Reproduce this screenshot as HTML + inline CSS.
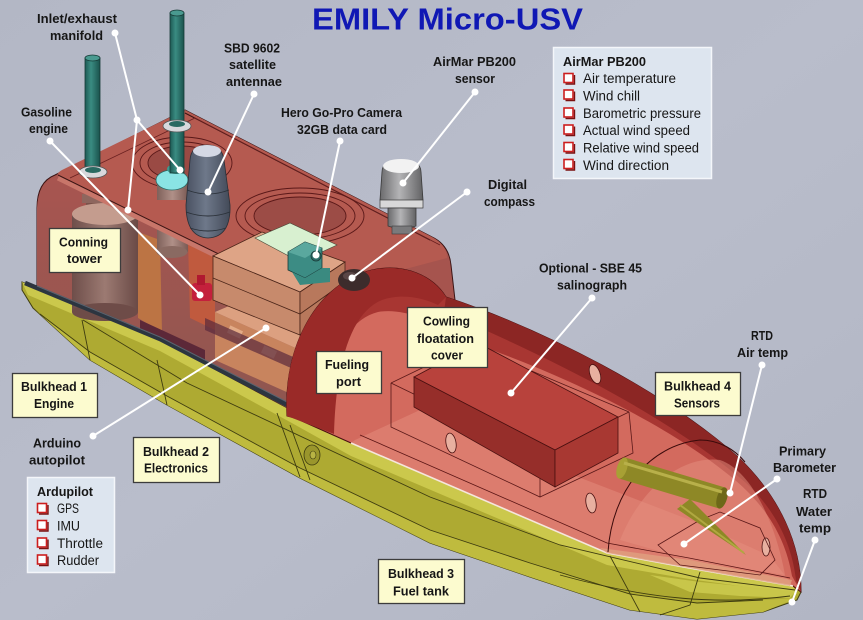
<!DOCTYPE html>
<html><head><meta charset="utf-8">
<style>
html,body{margin:0;padding:0;background:#b5b9c7;overflow:hidden}
svg{display:block}
.l{font-family:"Liberation Sans",sans-serif;font-weight:bold;font-size:13px;fill:#161616}
.r{font-family:"Liberation Sans",sans-serif;font-size:13.5px;fill:#161616}
.t{font-family:"Liberation Sans",sans-serif;font-weight:bold;font-size:31px;fill:#1018b4}
</style></head><body>
<svg width="863" height="620" viewBox="0 0 863 620" xmlns="http://www.w3.org/2000/svg">
<defs>
<linearGradient id="bg" x1="0" y1="0" x2="1" y2="1">
<stop offset="0" stop-color="#b3b7c5"/><stop offset=".5" stop-color="#b9bdcb"/><stop offset="1" stop-color="#b2b6c4"/>
</linearGradient>
<linearGradient id="pipe" x1="0" y1="0" x2="1" y2="0">
<stop offset="0" stop-color="#1d5a54"/><stop offset=".4" stop-color="#3a8c82"/><stop offset="1" stop-color="#1a524c"/>
</linearGradient>
<linearGradient id="ant" x1="0" y1="0" x2="1" y2="0">
<stop offset="0" stop-color="#4a5262"/><stop offset=".45" stop-color="#6e788a"/><stop offset="1" stop-color="#434a58"/>
</linearGradient>
<linearGradient id="air" x1="0" y1="0" x2="1" y2="0">
<stop offset="0" stop-color="#6a6a6c"/><stop offset=".45" stop-color="#b4b4b6"/><stop offset="1" stop-color="#626264"/>
</linearGradient>
<linearGradient id="cyl" x1="0" y1="0" x2="1" y2="0">
<stop offset="0" stop-color="#6e4e4a"/><stop offset=".5" stop-color="#9c7a72"/><stop offset="1" stop-color="#6a4a46"/>
</linearGradient>
<linearGradient id="cyl2" x1="0" y1="0" x2="1" y2="0">
<stop offset="0" stop-color="#7e605a"/><stop offset=".5" stop-color="#b09088"/><stop offset="1" stop-color="#7a5a54"/>
</linearGradient>
<linearGradient id="front" x1="0" y1="0" x2="0" y2="1">
<stop offset="0" stop-color="#a85550"/><stop offset="1" stop-color="#8e5650"/>
</linearGradient>
</defs>
<rect width="863" height="620" fill="url(#bg)"/>

<!-- HULL -->
<path d="M22,282 L160,339 L293,409 L351,443 L607,553 L689,568 L793,586 L801,592 L797,600 L763,612 L697,619 L630,610 L530,577 L430,543 L300,478 L167,405 L90,360 L33,308 L22,290 Z" fill="#aeaa32" stroke="#3e3c10" stroke-width="1"/>
<path d="M22,282 L160,339 L293,409 L351,443 L607,553 L689,568 L793,586 L797,594 L689,579 L607,565 L351,456 L290,422 L160,351 L28,295 Z" fill="#cbc84c"/>
<path d="M40,314 L90,352 L167,396 L300,468 L430,530 L530,563 L630,594 L697,603 L763,600 L797,598 L763,612 L697,619 L630,610 L530,577 L430,543 L300,478 L167,405 L90,360 L33,308 Z" fill="#bfbb3e"/>
<path d="M650,575 L700,582 L760,588 L795,592 L790,598 L740,596 L690,592 Z" fill="#c8c64a"/>
<path d="M293,409 L351,443 L360,436 L300,402 Z" fill="#dcdc98"/>
<g stroke="#3e3c10" stroke-width=".9" fill="none">
<path d="M83,320 L187,383 L430,497 L560,545 L700,578 L795,590"/>
<path d="M82,320 L90,360 M157,360 L167,405 M277,413 L300,477 M290,425 L310,480"/>
<path d="M40,314 L90,352 L167,396 L300,468 L430,530 L530,563 L630,594 L697,603 L763,600"/>
<path d="M610,556 L640,612 M700,572 L690,605 L660,615"/>
<path d="M560,575 C650,600 720,605 790,596"/>
</g>
<ellipse cx="312" cy="455" rx="8" ry="10" fill="#9a962c" stroke="#3e3c10" stroke-width=".8"/>
<ellipse cx="313" cy="455" rx="3" ry="4" fill="#b8b444" stroke="#3e3c10" stroke-width=".6"/>

<!-- CABIN (conning tower) -->
<path d="M185,110 L432,237 Q449,245 451,265 L455,300 L300,408 L293,411 L160,340 L37,286 L37,208 Q37,182 55,175 Z" fill="#a6544e" stroke="#3a1414" stroke-width="1"/>
<path d="M55,178 L300,297 L300,408 L293,411 L160,340 L37,286 L37,208 Q38,184 55,178 Z" fill="url(#front)"/>
<!-- interior items -->
<rect x="86" y="172" width="14" height="44" fill="#7a524a"/>
<rect x="82" y="194" width="22" height="9" fill="#8e665e"/>
<rect x="72" y="214" width="66" height="98" fill="url(#cyl)"/>
<ellipse cx="105" cy="214" rx="33" ry="11" fill="#c49c8e"/>
<ellipse cx="105" cy="312" rx="33" ry="9" fill="#6e4c48"/>
<path d="M138,232 L160,240 L162,332 L138,318 Z" fill="#bc7444"/>
<path d="M188,240 L215,252 L215,330 L190,318 Z" fill="#c05a3e"/>
<rect x="157" y="180" width="31" height="72" fill="url(#cyl2)"/>
<ellipse cx="172" cy="252" rx="15.5" ry="6" fill="#8a6a62"/>
<ellipse cx="172" cy="180" rx="16" ry="10" fill="#8ae4e4" stroke="#2a6a66" stroke-width=".8"/>
<ellipse cx="176" cy="169" rx="9" ry="5" fill="#3a9a90"/>
<path d="M140,320 L205,350 L205,360 L140,330 Z" fill="#5c2838"/>
<path d="M215,312 L300,350 L300,398 L215,360 Z" fill="#c8845e"/>
<path d="M215,312 L236,303 L318,340 L300,350 Z" fill="#dca080"/>
<rect x="228" y="328" width="14" height="8" fill="#e2aa86" transform="rotate(25 235 332)"/>
<rect x="262" y="348" width="14" height="8" fill="#e2aa86" transform="rotate(25 269 352)"/>
<path d="M205,318 L300,360 L300,372 L205,330 Z" fill="#5a2a3c" opacity=".7"/>
<rect x="192" y="283" width="20" height="18" rx="3" fill="#c4203c"/>
<rect x="197" y="275" width="8" height="10" fill="#b01830"/>
<!-- trim band at cabin base -->
<path d="M25,283 L160,339 L295,409" stroke="#2c3540" stroke-width="4.5" fill="none"/>
<path d="M37,286 L160,337 L293,405" stroke="#5a6470" stroke-width="1" fill="none"/>
<!-- top face -->
<path d="M185,110 L432,237 Q447,245 447,258 L300,297 L62,179 Q53,175 62,170 Z" fill="#b55a50"/>
<path d="M58,178 L300,297" stroke="#c8766a" stroke-width="5" fill="none"/>
<path d="M58,175 L300,294 M185,113 L430,240" stroke="#3a1414" stroke-width="1" fill="none"/>
<path d="M70,178 L195,118 L440,245" stroke="#6a2020" stroke-width=".8" fill="none"/>
<!-- recess rings -->
<ellipse cx="182" cy="163" rx="50" ry="26" fill="none" stroke="#5a1818" stroke-width=".9"/>
<ellipse cx="182" cy="163" rx="42" ry="21" fill="none" stroke="#5a1818" stroke-width=".9"/>
<ellipse cx="182" cy="163" rx="34" ry="17" fill="#9a4a44" stroke="#5a1818" stroke-width=".9"/>
<ellipse cx="300" cy="216" rx="64" ry="28" fill="none" stroke="#5a1818" stroke-width=".9"/>
<ellipse cx="300" cy="216" rx="55" ry="23" fill="none" stroke="#5a1818" stroke-width=".9"/>
<ellipse cx="300" cy="216" rx="46" ry="19" fill="#9c4c46" stroke="#5a1818" stroke-width=".9"/>
<!-- manifold redraw above recess -->
<rect x="157" y="180" width="31" height="20" fill="url(#cyl2)"/>
<ellipse cx="172" cy="180" rx="16" ry="10" fill="#8ae4e4" stroke="#2a6a66" stroke-width=".8"/>
<ellipse cx="176" cy="169" rx="9" ry="5" fill="#3a9a90"/>
<!-- electronics box stack -->
<path d="M213,256 L262,232 L345,262 L300,292 Z" fill="#dea486" stroke="#4a2418" stroke-width=".8"/>
<path d="M213,256 L300,292 L300,335 L213,300 Z" fill="#c78a6c" stroke="#4a2418" stroke-width=".8"/>
<path d="M300,292 L345,262 L345,300 L300,335 Z" fill="#b8785c" stroke="#4a2418" stroke-width=".8"/>
<path d="M255,238 L290,223 L337,245 L300,262 Z" fill="#d8f0d0" stroke="#4a4a3a" stroke-width=".6"/>
<path d="M213,278 L300,314 L345,282" stroke="#4a2418" stroke-width=".8" fill="none"/>
<!-- GoPro -->
<path d="M288,252 L305,242 L322,248 L322,268 L305,278 L288,270 Z" fill="#3c8c84" stroke="#1a3a38" stroke-width=".8"/>
<path d="M288,252 L305,242 L322,248 L305,258 Z" fill="#5aa89e"/>
<circle cx="316" cy="256" r="5" fill="#2c6e68" stroke="#1a3a38" stroke-width=".8"/>
<path d="M292,272 L300,285 L330,282 L330,268 L322,268 L305,278 Z" fill="#3a8a80"/>
<!-- pipes -->
<rect x="85" y="58" width="15" height="114" fill="url(#pipe)" stroke="#163a36" stroke-width=".8"/>
<ellipse cx="92.5" cy="58" rx="7.5" ry="3" fill="#4a9a90" stroke="#163a36" stroke-width=".8"/>
<ellipse cx="93" cy="172" rx="14" ry="6" fill="#d8d8dc" stroke="#555" stroke-width=".8"/>
<ellipse cx="93" cy="170" rx="8" ry="3" fill="#2a6a62"/>
<rect x="170" y="13" width="14" height="160" fill="url(#pipe)" stroke="#163a36" stroke-width=".8"/>
<ellipse cx="177" cy="13" rx="7" ry="3" fill="#4a9a90" stroke="#163a36" stroke-width=".8"/>
<ellipse cx="177" cy="126" rx="14" ry="6" fill="#d8d8dc" stroke="#555" stroke-width=".8"/>
<ellipse cx="177" cy="124" rx="8" ry="3" fill="#2a6a62"/>
<!-- antenna -->
<path d="M190,160 Q191,145 207,145 Q222,145 224,160 L230,205 Q231,237 208,238 Q186,237 186,205 Z" fill="url(#ant)" stroke="#2a3038" stroke-width=".8"/>
<ellipse cx="207" cy="151" rx="14" ry="6" fill="#d4d8e4"/>
<path d="M187,190 Q208,198 229,190 M186,212 Q208,220 230,212 M190,228 Q208,234 226,228" stroke="#2a3038" stroke-width=".9" fill="none"/>
<!-- AirMar sensor -->
<path d="M382,172 Q382,160 401,160 Q421,160 421,172 L423,200 Q402,206 380,200 Z" fill="url(#air)" stroke="#3a3a3a" stroke-width=".8"/>
<ellipse cx="401" cy="166" rx="18" ry="7" fill="#f2f2f2"/>
<rect x="380" y="200" width="43" height="8" fill="#d8d8d8" stroke="#3a3a3a" stroke-width=".7"/>
<path d="M388,208 L416,208 L416,226 Q402,231 388,226 Z" fill="url(#air)" stroke="#3a3a3a" stroke-width=".8"/>
<rect x="392" y="226" width="20" height="8" fill="#7a7a7c" stroke="#3a3a3a" stroke-width=".6"/>

<!-- COWLING -->
<path d="M287,416 C283,345 318,283 372,270 C405,263 433,276 446,297 C545,330 665,392 738,457 C780,497 801,545 801,592 L793,586 L689,568 L607,553 L351,443 L295,418 Z" fill="#d36a5e" stroke="#4a1010" stroke-width="1"/>
<path d="M287,416 C283,345 318,283 372,270 C405,263 433,276 446,297 C545,330 665,392 738,457 C780,497 801,545 801,592 L792,576 C786,540 768,508 735,480 C670,425 560,372 452,336 C430,318 400,308 378,312 C345,320 325,365 322,428 Z" fill="#a83632"/>
<path d="M287,416 C283,345 318,283 372,270 C405,263 433,276 446,297 L438,305 C420,296 398,294 382,300 C352,312 336,360 334,434 Z" fill="#9a2a28"/>
<path d="M446,297 C545,330 665,392 738,457 C780,497 801,545 801,592 L796,580 C792,545 776,510 745,482 C670,418 560,362 444,312 Z" fill="#8c2624"/>
<path d="M355,440 L420,410 L560,470 L690,520 L770,556 L793,586 L689,568 L607,553 L351,443 Z" fill="#e48a7c" opacity=".55"/>
<path d="M620,540 C640,490 680,455 720,460 C750,470 775,520 785,575 L690,560 Z" fill="#e69080" opacity=".5"/>
<path d="M351,443 L607,553 L689,568 L793,586" stroke="#f6e6dc" stroke-width="1.6" fill="none"/>
<path d="M360,435 L607,543 L689,558 L790,578" stroke="#5a1414" stroke-width=".8" fill="none"/>
<path d="M600,548 L690,560 L792,580 L790,586 L689,568 L607,553 Z" fill="#e0a080" opacity=".8"/>
<!-- salinograph box -->
<g stroke="#5a1818" stroke-width=".8" fill="none">
<path d="M391,383 L540,455 L629,412 M391,383 L391,427 L540,497 L633,453 L629,412 M540,455 L540,497 M391,383 L470,345 L629,412"/>
</g>
<path d="M414,377 L478,343 L618,417 L555,450 Z" fill="#b8423c" stroke="#4a1010" stroke-width=".8"/>
<path d="M414,377 L555,450 L555,487 L414,407 Z" fill="#962e2a" stroke="#4a1010" stroke-width=".8"/>
<path d="M555,450 L618,417 L618,453 L555,487 Z" fill="#a83832" stroke="#4a1010" stroke-width=".8"/>
<!-- hatches -->
<ellipse cx="595" cy="374" rx="5" ry="10" fill="#e8b0a0" stroke="#4a1010" stroke-width=".8" transform="rotate(-20 595 374)"/>
<ellipse cx="451" cy="443" rx="5" ry="10" fill="#e8b0a0" stroke="#4a1010" stroke-width=".8" transform="rotate(-10 451 443)"/>
<ellipse cx="591" cy="503" rx="5" ry="10" fill="#e8b0a0" stroke="#4a1010" stroke-width=".8" transform="rotate(-10 591 503)"/>
<ellipse cx="766" cy="547" rx="4" ry="9" fill="#e8b0a0" stroke="#4a1010" stroke-width=".8"/>
<!-- bulkhead 4 arc -->
<path d="M608,552 C612,490 650,445 700,440 C720,440 735,450 745,462" stroke="#3a0a0a" stroke-width="1" fill="none"/>
<path d="M658,545 L700,520 L720,512 L760,528 L775,560 L760,575 L680,565 Z" fill="none" stroke="#5a1818" stroke-width=".8"/>
<!-- bow sensors -->
<path d="M625,457.5 L725,487.5 L719,508.5 L619,478.5 Z" fill="#8e8826"/>
<ellipse cx="622" cy="468" rx="5" ry="11" fill="#a8a034" transform="rotate(17 622 468)"/>
<ellipse cx="722" cy="498" rx="5" ry="11" fill="#6e6818" transform="rotate(17 722 498)"/>
<path d="M624,463 L722,492" stroke="#b8b04a" stroke-width="3"/>
<path d="M677,509 L690,499 L746,555 Z" fill="#8e8826"/>
<path d="M680,505 L744,553" stroke="#b0a840" stroke-width="2"/>
<!-- compass -->
<ellipse cx="354" cy="280" rx="16" ry="11" fill="#3c2c2c"/>
<ellipse cx="350" cy="276" rx="7" ry="4" fill="#5a4646"/>

<!-- CONNECTORS -->
<g stroke="#ffffff" stroke-width="2" fill="none">
<path d="M115,33 L137,120 L180,170 M137,120 L128,210"/>
<path d="M50,141 L200,295"/>
<path d="M254,94 L208,192"/>
<path d="M340,141 L316,255"/>
<path d="M475,92 L403,183"/>
<path d="M467,192 L352,278"/>
<path d="M592,298 L511,393"/>
<path d="M762,365 L730,493"/>
<path d="M777,479 L684,544"/>
<path d="M815,540 L792,602"/>
<path d="M93,436 L266,328"/>
</g>
<g fill="#ffffff">
<circle cx="115" cy="33" r="3.5"/><circle cx="137" cy="120" r="3.5"/><circle cx="180" cy="170" r="3.5"/><circle cx="128" cy="210" r="3.5"/>
<circle cx="50" cy="141" r="3.5"/><circle cx="200" cy="295" r="3.5"/>
<circle cx="254" cy="94" r="3.5"/><circle cx="208" cy="192" r="3.5"/>
<circle cx="340" cy="141" r="3.5"/><circle cx="316" cy="255" r="3.5"/>
<circle cx="475" cy="92" r="3.5"/><circle cx="403" cy="183" r="3.5"/>
<circle cx="467" cy="192" r="3.5"/><circle cx="352" cy="278" r="3.5"/>
<circle cx="592" cy="298" r="3.5"/><circle cx="511" cy="393" r="3.5"/>
<circle cx="762" cy="365" r="3.5"/><circle cx="730" cy="493" r="3.5"/>
<circle cx="777" cy="479" r="3.5"/><circle cx="684" cy="544" r="3.5"/>
<circle cx="815" cy="540" r="3.5"/><circle cx="792" cy="602" r="3.5"/>
<circle cx="93" cy="436" r="3.5"/><circle cx="266" cy="328" r="3.5"/>
</g>

<!-- LABEL BOXES -->
<g fill="#fcfbcf" stroke="#3c3c3c" stroke-width="1.3">
<rect x="49.5" y="228.5" width="71" height="44"/>
<rect x="12.5" y="373.5" width="85" height="44"/>
<rect x="133.5" y="437.5" width="86" height="45"/>
<rect x="316.5" y="351.5" width="65" height="42"/>
<rect x="407.5" y="307.5" width="80" height="60"/>
<rect x="655.5" y="372.5" width="85" height="43"/>
<rect x="378.5" y="559.5" width="86" height="44"/>
</g>
<!-- LIST BOXES -->
<rect x="553.5" y="47.5" width="158" height="131" fill="#dde5ef" stroke="#f4f6fa" stroke-width="1.5"/>
<rect x="27.5" y="477.5" width="87" height="95" fill="#dde5ef" stroke="#f4f6fa" stroke-width="1.5"/>
<g fill="#ffffff" stroke="#cc1e1e" stroke-width="1.6">
<rect x="564" y="73.5" width="9" height="9"/>
<rect x="564" y="90" width="9" height="9"/>
<rect x="564" y="108" width="9" height="9"/>
<rect x="564" y="125" width="9" height="9"/>
<rect x="564" y="142.5" width="9" height="9"/>
<rect x="564" y="159.5" width="9" height="9"/>
<rect x="37.5" y="503.5" width="9" height="9"/>
<rect x="37.5" y="520.5" width="9" height="9"/>
<rect x="37.5" y="538" width="9" height="9"/>
<rect x="37.5" y="555" width="9" height="9"/>
</g>
<g fill="none" stroke="#7a1010" stroke-width="1.4">
<path d="M574.5,75 V84 H565.5"/><path d="M574.5,91.5 V100.5 H565.5"/><path d="M574.5,109.5 V118.5 H565.5"/>
<path d="M574.5,126.5 V135.5 H565.5"/><path d="M574.5,144 V153 H565.5"/><path d="M574.5,161 V170 H565.5"/>
<path d="M48,505 V514 H39"/><path d="M48,522 V531 H39"/><path d="M48,539.5 V548.5 H39"/><path d="M48,556.5 V565.5 H39"/>
</g>

<!-- TITLE -->
<text class="t" x="312" y="29.5" textLength="271" lengthAdjust="spacingAndGlyphs">EMILY Micro-USV</text>

<!-- LABEL TEXT -->
<text class="l" x="37" y="23" textLength="80" lengthAdjust="spacingAndGlyphs">Inlet/exhaust</text>
<text class="l" x="50" y="40" textLength="53" lengthAdjust="spacingAndGlyphs">manifold</text>
<text class="l" x="224" y="52.5" textLength="56" lengthAdjust="spacingAndGlyphs">SBD 9602</text>
<text class="l" x="229" y="69" textLength="47" lengthAdjust="spacingAndGlyphs">satellite</text>
<text class="l" x="226" y="86" textLength="56" lengthAdjust="spacingAndGlyphs">antennae</text>
<text class="l" x="21" y="116.5" textLength="51" lengthAdjust="spacingAndGlyphs">Gasoline</text>
<text class="l" x="29" y="133" textLength="39" lengthAdjust="spacingAndGlyphs">engine</text>
<text class="l" x="281" y="117" textLength="121" lengthAdjust="spacingAndGlyphs">Hero Go-Pro Camera</text>
<text class="l" x="297" y="134" textLength="90" lengthAdjust="spacingAndGlyphs">32GB data card</text>
<text class="l" x="433" y="66" textLength="83" lengthAdjust="spacingAndGlyphs">AirMar PB200</text>
<text class="l" x="455" y="83" textLength="40" lengthAdjust="spacingAndGlyphs">sensor</text>
<text class="l" x="488" y="189" textLength="39" lengthAdjust="spacingAndGlyphs">Digital</text>
<text class="l" x="484" y="206" textLength="51" lengthAdjust="spacingAndGlyphs">compass</text>
<text class="l" x="539" y="272.5" textLength="103" lengthAdjust="spacingAndGlyphs">Optional - SBE 45</text>
<text class="l" x="557" y="289.5" textLength="70" lengthAdjust="spacingAndGlyphs">salinograph</text>
<text class="l" x="59" y="246.5" textLength="49" lengthAdjust="spacingAndGlyphs">Conning</text>
<text class="l" x="67" y="263" textLength="35" lengthAdjust="spacingAndGlyphs">tower</text>
<text class="l" x="423" y="325.5" textLength="47" lengthAdjust="spacingAndGlyphs">Cowling</text>
<text class="l" x="417" y="343" textLength="57" lengthAdjust="spacingAndGlyphs">floatation</text>
<text class="l" x="431" y="359.5" textLength="32" lengthAdjust="spacingAndGlyphs">cover</text>
<text class="l" x="325" y="369" textLength="44" lengthAdjust="spacingAndGlyphs">Fueling</text>
<text class="l" x="336" y="386" textLength="25" lengthAdjust="spacingAndGlyphs">port</text>
<text class="l" x="21" y="391" textLength="66" lengthAdjust="spacingAndGlyphs">Bulkhead 1</text>
<text class="l" x="34" y="408" textLength="40" lengthAdjust="spacingAndGlyphs">Engine</text>
<text class="l" x="33" y="447.5" textLength="48" lengthAdjust="spacingAndGlyphs">Arduino</text>
<text class="l" x="29" y="464.5" textLength="56" lengthAdjust="spacingAndGlyphs">autopilot</text>
<text class="l" x="143" y="456" textLength="66" lengthAdjust="spacingAndGlyphs">Bulkhead 2</text>
<text class="l" x="144" y="472.5" textLength="64" lengthAdjust="spacingAndGlyphs">Electronics</text>
<text class="l" x="751" y="340" textLength="22" lengthAdjust="spacingAndGlyphs">RTD</text>
<text class="l" x="737" y="357" textLength="51" lengthAdjust="spacingAndGlyphs">Air temp</text>
<text class="l" x="664" y="390.5" textLength="67" lengthAdjust="spacingAndGlyphs">Bulkhead 4</text>
<text class="l" x="674" y="407.5" textLength="46" lengthAdjust="spacingAndGlyphs">Sensors</text>
<text class="l" x="779" y="455.5" textLength="47" lengthAdjust="spacingAndGlyphs">Primary</text>
<text class="l" x="773" y="472" textLength="63" lengthAdjust="spacingAndGlyphs">Barometer</text>
<text class="l" x="803" y="498" textLength="24" lengthAdjust="spacingAndGlyphs">RTD</text>
<text class="l" x="796" y="516" textLength="36" lengthAdjust="spacingAndGlyphs">Water</text>
<text class="l" x="799" y="532.5" textLength="32" lengthAdjust="spacingAndGlyphs">temp</text>
<text class="l" x="388" y="578" textLength="66" lengthAdjust="spacingAndGlyphs">Bulkhead 3</text>
<text class="l" x="393" y="595.5" textLength="56" lengthAdjust="spacingAndGlyphs">Fuel tank</text>

<!-- LIST TEXT -->
<text class="l" x="563" y="66" textLength="83" lengthAdjust="spacingAndGlyphs">AirMar PB200</text>
<text class="r" x="583" y="83" textLength="93" lengthAdjust="spacingAndGlyphs">Air temperature</text>
<text class="r" x="583" y="100.5" textLength="57" lengthAdjust="spacingAndGlyphs">Wind chill</text>
<text class="r" x="583" y="118" textLength="118" lengthAdjust="spacingAndGlyphs">Barometric pressure</text>
<text class="r" x="583" y="135" textLength="107" lengthAdjust="spacingAndGlyphs">Actual wind speed</text>
<text class="r" x="583" y="152.5" textLength="116" lengthAdjust="spacingAndGlyphs">Relative wind speed</text>
<text class="r" x="583" y="170" textLength="86" lengthAdjust="spacingAndGlyphs">Wind direction</text>
<text class="l" x="37" y="496" textLength="56" lengthAdjust="spacingAndGlyphs">Ardupilot</text>
<text class="r" x="57" y="513" textLength="22" lengthAdjust="spacingAndGlyphs">GPS</text>
<text class="r" x="57" y="530.5" textLength="23" lengthAdjust="spacingAndGlyphs">IMU</text>
<text class="r" x="57" y="548" textLength="46" lengthAdjust="spacingAndGlyphs">Throttle</text>
<text class="r" x="57" y="565" textLength="42" lengthAdjust="spacingAndGlyphs">Rudder</text>
</svg>
</body></html>
